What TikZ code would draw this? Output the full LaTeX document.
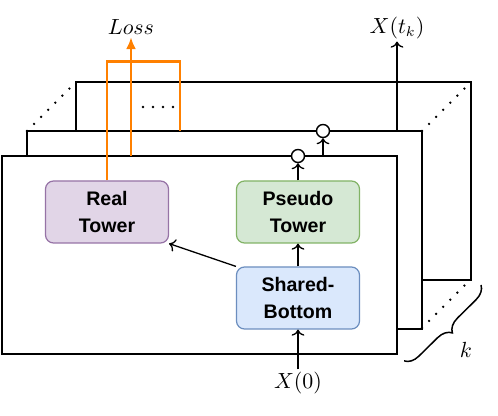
\documentclass[tikz,border=0pt]{standalone}
\usepackage{fontspec}
\newfontfamily\boxfont{Liberation Sans}
\usetikzlibrary{decorations.pathreplacing, arrows.meta}
\definecolor{realfill}{HTML}{E1D5E7}
\definecolor{realline}{HTML}{9673A6}
\definecolor{pseudofill}{HTML}{D5E8D4}
\definecolor{pseudoline}{HTML}{82B366}
\definecolor{sharedfill}{HTML}{DAE8FC}
\definecolor{sharedline}{HTML}{6C8EBF}
\definecolor{lossorange}{HTML}{FF8000}
\tikzset{
    tower/.style={rounded corners=4pt, minimum width=61.5pt, minimum height=31pt,
        line width=0.6pt, align=center, font=\boxfont\bfseries\fontsize{9.8}{13.3}\selectfont},
    frame/.style={line width=0.7pt, fill=white},
    gate/.style={circle, draw, fill=white, line width=0.7pt, minimum size=6.5pt, inner sep=0pt},
    dots/.style={line width=1.3pt, line cap=round, dash pattern=on 0pt off 5pt},
    losspath/.style={draw=lossorange, line width=1.4pt},
    lbl/.style={inner sep=1pt, font=\fontsize{10.7}{12}\selectfont}
}
\begin{document}
\begin{tikzpicture}[x=0.5pt, y=-0.5pt, line width=0.65pt]
        \useasboundingbox (0,0) rectangle (498,416);
        % stacked frames, back to front
        \foreach \x/\y in {76/82, 27/131, 2/156}{
            \draw[frame] (\x,\y) rectangle +(395,198);
        }
        \foreach \x/\y in {27/131, 422/131, 422/328}{
            \draw[dots] (\x,\y) -- +(49,-49);
        }
        \draw[dots] (143,107) -- (174,107);

        \node[tower, draw=realline, fill=realfill] (real) at (107,212) {Real\\Tower};
        \node[tower, draw=pseudoline, fill=pseudofill] (pseudo) at (298,212) {Pseudo\\Tower};
        \node[tower, draw=sharedline, fill=sharedfill] (shared) at (298,298) {Shared-\\Bottom};
        \node[gate] (gate1) at (298,156) {};
        \node[gate] (gate2) at (323,131) {};
        \coordinate (fronttop) at (323,156);
        \coordinate (midtop) at (397,131);
        \coordinate (lossbase) at (131,156);

        \node[lbl] (loss) at (131,27) {$Loss$};
        \node[lbl] (xtk) at (397,28) {$X(t_k)$};
        \node[lbl] (x0) at (298,383) {$X(0)$};
        \node[lbl] (k) at (466,350) {$k$};

        \draw[->] (x0) -- (shared);
        \draw[->] (shared) -- (pseudo);
        \draw[->] (pseudo) -- (gate1);
        \draw[->] (shared.north west) -- (real.south east);
        \draw[->] (fronttop) -- (gate2);
        \draw[->] (midtop) -- (xtk);

        \draw[losspath] (real.north) -- ++(0,-119) -| (180,131);
        \draw[losspath, -{Latex[length=6pt, width=5pt]}] (lossbase) -- (loss);

        % bracket over the k copies
        \draw[line width=0.75pt, decorate, decoration={brace, amplitude=7pt}]
            (481,285) -- (404,361);
\end{tikzpicture}
\end{document}
